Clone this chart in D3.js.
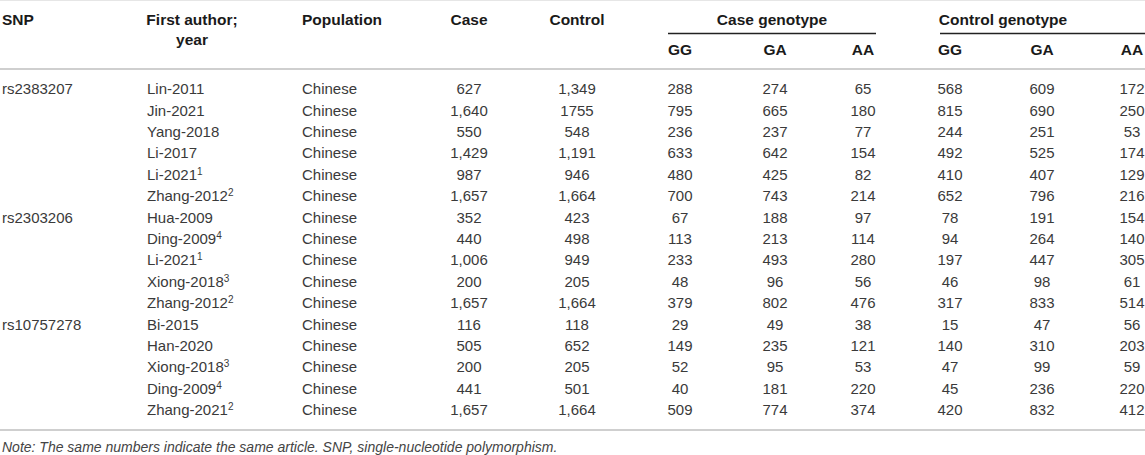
<!DOCTYPE html>
<html lang="en">

<head>
    <meta charset="UTF-8">
    <title>SNP genotype table</title>
    <script src="https://d3js.org/d3.v7.min.js"></script>
    <style>
        body {
            margin: 0;
            background: #fff;
        }

        svg {
            display: block;
            font-family: "Liberation Sans", Arial, Helvetica, sans-serif;
        }

        .head {
            font-weight: bold;
            fill: #1a1a1a;
            font-size: 15.5px;
        }

        .cell {
            fill: #3a3a3a;
            font-size: 15px;
        }

        .note {
            fill: #444;
            font-size: 14px;
            font-style: italic;
        }
    </style>
</head>

<body>
    <div id="table"></div>
    <script>
        // table data
        var snps = ["rs2383207", "rs2303206", "rs10757278"];
        var snpRows = [6, 5, 5];
        var authors = ["Lin-2011", "Jin-2021", "Yang-2018", "Li-2017", "Li-2021", "Zhang-2012",
            "Hua-2009", "Ding-2009", "Li-2021", "Xiong-2018", "Zhang-2012",
            "Bi-2015", "Han-2020", "Xiong-2018", "Ding-2009", "Zhang-2021"];
        var refMarks = ["", "", "", "", "1", "2",
            "", "4", "1", "3", "2",
            "", "", "3", "4", "2"];
        var population = ["Chinese", "Chinese", "Chinese", "Chinese", "Chinese", "Chinese",
            "Chinese", "Chinese", "Chinese", "Chinese", "Chinese",
            "Chinese", "Chinese", "Chinese", "Chinese", "Chinese"];
        var caseN = ["627", "1,640", "550", "1,429", "987", "1,657",
            "352", "440", "1,006", "200", "1,657",
            "116", "505", "200", "441", "1,657"];
        var controlN = ["1,349", "1755", "548", "1,191", "946", "1,664",
            "423", "498", "949", "205", "1,664",
            "118", "652", "205", "501", "1,664"];
        var caseGG = [288, 795, 236, 633, 480, 700, 67, 113, 233, 48, 379, 29, 149, 52, 40, 509];
        var caseGA = [274, 665, 237, 642, 425, 743, 188, 213, 493, 96, 802, 49, 235, 95, 181, 774];
        var caseAA = [65, 180, 77, 154, 82, 214, 97, 114, 280, 56, 476, 38, 121, 53, 220, 374];
        var ctrlGG = [568, 815, 244, 492, 410, 652, 78, 94, 197, 46, 317, 15, 140, 47, 45, 420];
        var ctrlGA = [609, 690, 251, 525, 407, 796, 191, 264, 447, 98, 833, 47, 310, 99, 236, 832];
        var ctrlAA = [172, 250, 53, 174, 129, 216, 154, 140, 305, 61, 514, 56, 203, 59, 220, 412];
        var genotypes = ["GG", "GA", "AA"];
        var noteText = "Note: The same numbers indicate the same article. SNP, single-nucleotide polymorphism.";

        var width = 1145, height = 455;

        var svg = d3.select("#table").append("svg")
            .attr("width", width)
            .attr("height", height);

        // column anchors
        var colX = d3.scaleOrdinal()
            .domain(["snp", "author", "pop", "case", "control", "cGG", "cGA", "cAA", "kGG", "kGA", "kAA"])
            .range([2, 147, 302, 469, 577, 680, 775, 863, 950, 1042, 1132]);

        var rowY = d3.scalePoint()
            .domain(d3.range(authors.length))
            .range([89, 410]);

        // rules
        svg.append("line").attr("x1", 0).attr("x2", width).attr("y1", 0.5).attr("y2", 0.5)
            .attr("stroke", "#e6e6e6").attr("stroke-width", 1);
        svg.append("line").attr("x1", 0).attr("x2", width).attr("y1", 69).attr("y2", 69)
            .attr("stroke", "#cfcfcf").attr("stroke-width", 2);
        svg.append("line").attr("x1", 0).attr("x2", width).attr("y1", 430).attr("y2", 430)
            .attr("stroke", "#cfcfcf").attr("stroke-width", 2);

        // header
        var head = svg.append("g").attr("class", "head");
        head.append("text").attr("x", colX("snp")).attr("y", 20).attr("dy", "0.35em").text("SNP");
        head.append("text").attr("x", 192).attr("y", 20).attr("dy", "0.35em")
            .attr("text-anchor", "middle").text("First author;");
        head.append("text").attr("x", 192).attr("y", 40).attr("dy", "0.35em")
            .attr("text-anchor", "middle").text("year");
        head.append("text").attr("x", colX("pop")).attr("y", 20).attr("dy", "0.35em").text("Population");
        head.append("text").attr("x", colX("case")).attr("y", 20).attr("dy", "0.35em")
            .attr("text-anchor", "middle").text("Case");
        head.append("text").attr("x", colX("control")).attr("y", 20).attr("dy", "0.35em")
            .attr("text-anchor", "middle").text("Control");

        var groups = [
            { label: "Case genotype", mid: 772, x1: 668, x2: 876, keys: ["cGG", "cGA", "cAA"] },
            { label: "Control genotype", mid: 1003, x1: 940, x2: 1145, keys: ["kGG", "kGA", "kAA"] }
        ];
        groups.forEach(function (g) {
            head.append("text").attr("x", g.mid).attr("y", 20).attr("dy", "0.35em")
                .attr("text-anchor", "middle").text(g.label);
            svg.append("line").attr("x1", g.x1).attr("x2", g.x2).attr("y1", 33.5).attr("y2", 33.5)
                .attr("stroke", "#222").attr("stroke-width", 1.4);
            g.keys.forEach(function (k, i) {
                head.append("text").attr("x", colX(k)).attr("y", 50).attr("dy", "0.35em")
                    .attr("text-anchor", "middle").text(genotypes[i]);
            });
        });

        // body
        var body = svg.append("g").attr("class", "cell");

        var start = 0;
        snps.forEach(function (s, i) {
            body.append("text").attr("x", colX("snp")).attr("y", rowY(start)).attr("dy", "0.35em").text(s);
            start += snpRows[i];
        });

        body.selectAll("text.author")
            .data(authors)
            .join("text")
            .attr("class", "author")
            .attr("x", colX("author"))
            .attr("y", function (d, i) { return rowY(i); })
            .attr("dy", "0.35em")
            .text(function (d) { return d; })
            .each(function (d, i) {
                if (refMarks[i] === "") return;
                d3.select(this).append("tspan")
                    .attr("dy", "-0.5em")
                    .attr("font-size", "10px")
                    .text(refMarks[i]);
            });

        body.selectAll("text.pop")
            .data(population)
            .join("text")
            .attr("class", "pop")
            .attr("x", colX("pop"))
            .attr("y", function (d, i) { return rowY(i); })
            .attr("dy", "0.35em")
            .text(function (d) { return d; });

        var numCols = [
            ["case", caseN], ["control", controlN],
            ["cGG", caseGG], ["cGA", caseGA], ["cAA", caseAA],
            ["kGG", ctrlGG], ["kGA", ctrlGA], ["kAA", ctrlAA]
        ];
        numCols.forEach(function (c) {
            body.selectAll("text.n-" + c[0])
                .data(c[1])
                .join("text")
                .attr("class", "n-" + c[0])
                .attr("x", colX(c[0]))
                .attr("y", function (d, i) { return rowY(i); })
                .attr("dy", "0.35em")
                .attr("text-anchor", "middle")
                .text(function (d) { return d; });
        });

        svg.append("text")
            .attr("class", "note")
            .attr("x", 2)
            .attr("y", 447)
            .attr("dy", "0.35em")
            .text(noteText);
    </script>
</body>

</html>
